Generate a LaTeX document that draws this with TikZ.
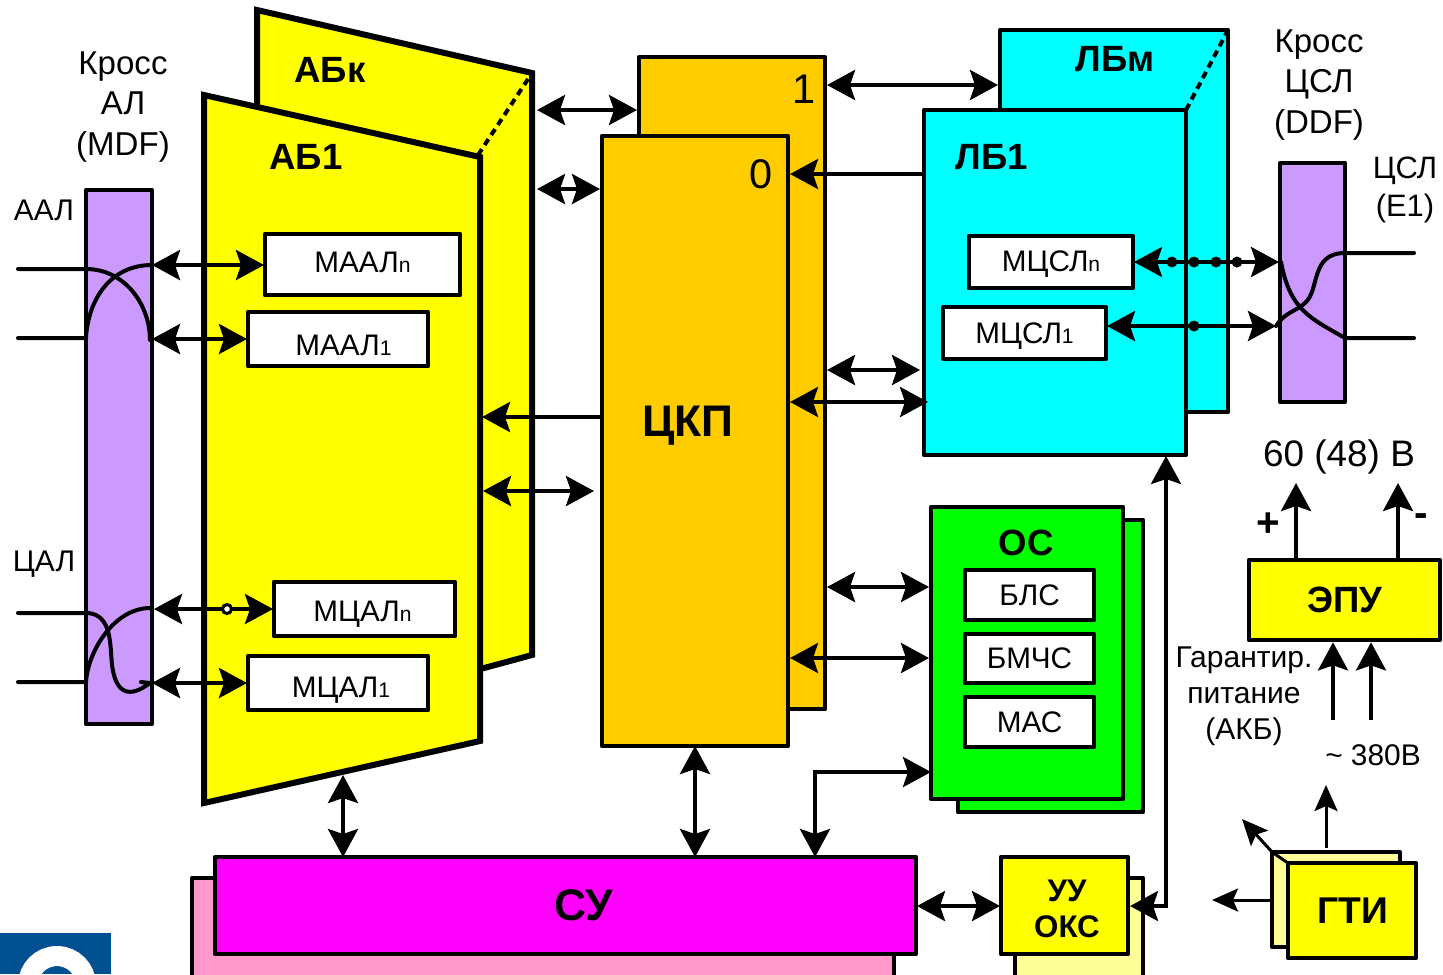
\documentclass[tikz,border=0pt]{standalone}
\usepackage{fontspec}
\usepackage{tikz}
\usetikzlibrary{arrows.meta}
\setmainfont{Liberation Sans}

\definecolor{lilac}{HTML}{CC99FF}
\definecolor{amber}{HTML}{FFCC00}
\definecolor{paleyellow}{HTML}{FFFF99}
\definecolor{palepink}{HTML}{FF99CC}
\definecolor{logoblue}{HTML}{005092}
\definecolor{ayellow}{HTML}{FFFF00}
\definecolor{acyan}{HTML}{00FFFF}
\definecolor{amagenta}{HTML}{FF00FF}
\definecolor{agreen}{HTML}{00FF00}

\tikzset{
  abox/.style={draw=black,line width=.47mm,line join=round,inner sep=0pt,align=center,rectangle},
  whitebox/.style={abox,fill=white,text depth=0mm,font=\fontsize{8.45}{10}\selectfont},
  smallbox/.style={abox,fill=white,font=\fontsize{8.45}{10}\selectfont,minimum width=12.9mm},
  dbl/.style={line width=.4mm,{Stealth[length=2.8mm,width=3mm,inset=.5mm]}-{Stealth[length=2.8mm,width=3mm,inset=.5mm]}},
  sgl/.style={line width=.4mm,-{Stealth[length=2.8mm,width=3mm,inset=.5mm]}},
  thin arr/.style={line width=.3mm,-{Stealth[length=2.6mm,width=2.3mm,inset=.5mm]}},
  wire/.style={line width=.4mm,line cap=round},
  lbl/.style={inner sep=0pt,align=center,font=\fontsize{9.4}{11.4}\selectfont},
  blbl/.style={inner sep=0pt,align=center,font=\fontsize{10.4}{12}\selectfont\bfseries},
  dot/.style={circle,fill=black,inner sep=0pt,minimum size=1.1mm}
}

\newcommand{\subn}[1]{{\fontsize{6}{7}\selectfont #1}}

\begin{document}
\begin{tikzpicture}[x=.1mm,y=-.1mm]
\clip (0,0) rectangle (1443,974);

% logo corner
\fill [logoblue] (0,933) rectangle (111,974);
\draw [white,line width=2mm] (57,985) circle [radius=29];

% analog block, rear and front
\draw [line width=.6mm,fill=ayellow] (257,10) -- (532,73) -- (532,655) -- (484,668) -- (257,668) -- cycle;
\draw [line width=.6mm,fill=ayellow] (204,95) -- (480,157) -- (480,741) -- (204,803) -- cycle;
\coordinate (ABa) at (478,155);
\coordinate (ABb) at (532,73);
\draw [line width=.4mm,dash pattern=on .7mm off .5mm] (ABa) to (ABb);

% switch field
\node [abox,fill=amber,minimum width=18.6mm,minimum height=65.2mm] (CKP1) at (732,383) {};
\node [abox,fill=amber,minimum width=18.6mm,minimum height=61mm] (CKP0) at (695,441) {};

% line blocks
\node [abox,fill=acyan,minimum width=22.8mm,minimum height=38.2mm] (LBm) at (1114,221) {};
\node [abox,fill=acyan,minimum width=26.2mm,minimum height=34.5mm] (LB1) at (1055,282.5) {};
\coordinate (LBa) at (1186,110);
\coordinate (LBb) at (1228,30);
\draw [line width=.4mm,dash pattern=on .7mm off .5mm] (LBa) to (LBb);

% cross panels
\node [abox,fill=lilac,minimum width=6.6mm,minimum height=53.4mm] (MDF) at (119,457) {};
\node [abox,fill=lilac,minimum width=6.5mm,minimum height=23.9mm] (DDF) at (1312.5,282.5) {};

% common channel equipment
\node [abox,fill=agreen,minimum width=18.5mm,minimum height=29.2mm] (OSr) at (1050.5,666) {};
\node [abox,fill=agreen,minimum width=19.2mm,minimum height=29.2mm] (OS) at (1027,653) {};
\node [smallbox,minimum height=5mm] (BLS) at (1029.5,595) {БЛС};
\node [smallbox,minimum height=4.9mm] (BMCHS) at (1029.5,658.5) {БМЧС};
\node [smallbox,minimum height=5mm] (MAC) at (1029.5,722) {МАС};

% control
\node [abox,fill=palepink,minimum width=70.2mm,minimum height=12mm] (SUr) at (543,938) {};
\node [abox,fill=amagenta,minimum width=70.1mm,minimum height=9.7mm] (SU) at (565.5,905.5) {};
\node [abox,fill=paleyellow,minimum width=12.8mm,minimum height=12mm] (UUr) at (1079,938) {};
\node [abox,fill=ayellow,minimum width=12.7mm,minimum height=9.7mm] (UU) at (1064.5,905.5) {};
\node [abox,fill=paleyellow,minimum width=12.8mm,minimum height=9.5mm] (GTIr) at (1336,899.5) {};
\node [abox,fill=ayellow,minimum width=12.8mm,minimum height=9.5mm,font=\fontsize{10.6}{12}\selectfont\bfseries] (GTI) at (1352,910.5) {\hspace*{.1mm}ГТИ};
\node [abox,fill=ayellow,minimum width=19.1mm,minimum height=8mm,font=\fontsize{10.4}{12}\selectfont\bfseries] (EPU) at (1344.5,600) {ЭПУ};

% line cards
\node [whitebox,text height=1.63mm,minimum width=19.5mm,minimum height=6.1mm] (MAALn) at (362.5,264.5) {МААЛ\subn{n}};
\node [whitebox,text height=3.33mm,minimum width=18mm,minimum height=5.4mm] (MAAL1) at (338,339) {\hspace*{1.1mm}МААЛ\subn{1}};
\node [whitebox,text height=2.53mm,minimum width=18.1mm,minimum height=5.4mm] (MCALn) at (364.5,609) {\hspace*{-.4mm}МЦАЛ\subn{n}};
\node [whitebox,text height=2.93mm,minimum width=18mm,minimum height=5.4mm] (MCAL1) at (338,683) {\hspace*{.6mm}МЦАЛ\subn{1}};
\node [whitebox,text height=1.93mm,minimum width=16.4mm,minimum height=5.2mm] (MCSLn) at (1051,262) {МЦСЛ\subn{n}};
\node [whitebox,text height=2.13mm,minimum width=16.3mm,minimum height=5.2mm] (MCSL1) at (1024.5,333) {МЦСЛ\subn{1}};

\coordinate (A) at (18,269);
\coordinate (B) at (86,269);
\coordinate (C) at (150,340);
\coordinate (D) at (18,338);
\coordinate (E) at (86,338);
\coordinate (F) at (152,265);
\coordinate (G) at (18,613);
\coordinate (H) at (88,613);
\coordinate (I) at (18,682);
\coordinate (J) at (86,682);
\coordinate (K) at (150,608);
\coordinate (L) at (1414,253);
\coordinate (M) at (1345,253);
\coordinate (N) at (1276,326);
\coordinate (O) at (1414,338);
\coordinate (P) at (1345,338);
\coordinate (Q) at (1281,262);

\draw [wire] (A) to (B) .. controls (125,269) and (150,305) .. (C);
\draw [wire] (D) to (E) .. controls (88,300) and (110,265) .. (F);
\draw [wire] (G) to (H) .. controls (112,615) and (110,645) .. (112,665) .. controls (116,695) and (130,698) .. (150,683) to (141,682);
\draw [wire] (I) to (J) .. controls (88,650) and (115,608) .. (K);
\draw [wire] (L) to (M) .. controls (1310,253) and (1320,290) .. (1305,303) .. controls (1295,312) and (1285,312) .. (N);
\draw [wire] (O) to (P) .. controls (1310,318) and (1290,310) .. (Q);

% links
\coordinate (a1) at (537,110);
\coordinate (a2) at (637,110);
\coordinate (b1) at (537,189);
\coordinate (b2) at (600,189);
\coordinate (c1) at (827,85);
\coordinate (c2) at (998,85);
\coordinate (d1) at (923,174);
\coordinate (d2) at (790,174);
\coordinate (e1) at (602,417);
\coordinate (e2) at (482,417);
\coordinate (f1) at (483,491);
\coordinate (f2) at (594,491);
\coordinate (g1) at (827,370);
\coordinate (g2) at (920,370);
\coordinate (h1) at (790,402);
\coordinate (h2) at (928,402);
\coordinate (i1) at (827,587);
\coordinate (i2) at (929,587);
\coordinate (j1) at (790,658);
\coordinate (j2) at (929,658);
\coordinate (k1) at (152,265);
\coordinate (k2) at (264,265);
\coordinate (l1) at (152,339);
\coordinate (l2) at (247,339);
\coordinate (m1) at (154,609);
\coordinate (m2) at (273,609);
\coordinate (n1) at (152,683);
\coordinate (n2) at (247,683);
\coordinate (o1) at (1134,262);
\coordinate (o2) at (1279,262);
\coordinate (p1) at (1107,326);
\coordinate (p2) at (1276,326);
\coordinate (q1) at (343,775);
\coordinate (q2) at (343,857);
\coordinate (r1) at (695,746);
\coordinate (r2) at (695,857);
\coordinate (s1) at (815,857);
\coordinate (s2) at (815,772);
\coordinate (s3) at (931,772);
\coordinate (t1) at (1166,456);
\coordinate (t2) at (1166,906);
\coordinate (t3) at (1130,906);
\coordinate (u1) at (917,906);
\coordinate (u2) at (1000,906);

\draw [dbl] (a1) to (a2);
\draw [dbl] (b1) to (b2);
\draw [dbl] (c1) to (c2);
\draw [sgl] (d1) to (d2);
\draw [sgl] (e1) to (e2);
\draw [dbl] (f1) to (f2);
\draw [dbl] (g1) to (g2);
\draw [dbl] (h1) to (h2);
\draw [dbl] (i1) to (i2);
\draw [dbl] (j1) to (j2);
\draw [dbl] (k1) to (k2);
\draw [dbl] (l1) to (l2);
\draw [dbl] (m1) to (m2);
\draw [dbl] (n1) to (n2);
\draw [dbl] (o1) to (o2);
\draw [dbl] (p1) to (p2);
\draw [dbl] (q1) to (q2);
\draw [dbl] (r1) to (r2);
\draw [dbl] (s1) -- (s2) -- (s3);
\draw [dbl] (t1) -- (t2) -- (t3);
\draw [dbl] (u1) to (u2);

\node [circle,draw=black,fill=white,line width=.3mm,inner sep=0pt,minimum size=.9mm] (mdot) at (227,609) {};
\node [dot] (o3) at (1172,262) {};
\node [dot] (o4) at (1194,262) {};
\node [dot] (o5) at (1216,262) {};
\node [dot] (o6) at (1237,262) {};
\node [dot] (p3) at (1194,326) {};

% power
\coordinate (v1) at (1296,483);
\coordinate (v2) at (1398,483);
\coordinate (w1) at (1333,720);
\coordinate (w2) at (1371,720);
\draw [sgl] (EPU.north -| v1) to (v1);
\draw [sgl] (EPU.north -| v2) to (v2);
\draw [sgl] (w1) to (EPU.south -| w1);
\draw [sgl] (w2) to (EPU.south -| w2);

% clock outputs
\coordinate (x1) at (1326,848);
\coordinate (x2) at (1326,785);
\coordinate (y1) at (1272,852);
\coordinate (y2) at (1242,819);
\coordinate (y3) at (1288,863);
\coordinate (z1) at (1272,900);
\coordinate (z2) at (1212,900);
\draw [thin arr] (x1) to (x2);
\draw [thin arr] (y1) to (y2);
\draw [line width=.3mm] (y1) to (y3);
\draw [thin arr] (z1) to (z2);

% labels
\node [lbl] (crossA) at (123,107) {Кросс\\АЛ\\(MDF)};
\node [lbl] (crossD) at (1319,85) {Кросс\\ЦСЛ\\(DDF)};
\node [lbl,font=\fontsize{8.8}{10.6}\selectfont] (cslE) at (1405,190) {ЦСЛ\\(E1)};
\node [lbl,font=\fontsize{8.5}{10}\selectfont] (AAL) at (44,210) {ААЛ};
\node [lbl,font=\fontsize{8.5}{10}\selectfont] (CAL) at (44,564) {ЦАЛ};
\node [blbl] (ABk) at (330,70) {АБк};
\node [blbl] (AB1) at (306,157) {АБ1};
\node [blbl] (LBmt) at (1115,59) {ЛБм};
\node [blbl] (LB1t) at (992,157) {ЛБ1};
\node [lbl,font=\fontsize{11.8}{13}\selectfont] (num1) at (804,89) {1};
\node [lbl,font=\fontsize{11.8}{13}\selectfont] (num0) at (761,174) {0};
\node [blbl,font=\fontsize{12.6}{14}\selectfont\bfseries] (CKP) at (688,426) {ЦКП};
\node [blbl,font=\fontsize{12.6}{14}\selectfont\bfseries] (SUt) at (584,905) {СУ};
\node [blbl,font=\fontsize{8.9}{10.3}\selectfont\bfseries] (UUt) at (1067,909) {УУ\\ОКС};
\node [blbl] (OSt) at (1026,543) {ОС};
\node [lbl,font=\fontsize{10.5}{12}\selectfont] (volt) at (1339,457) {60 (48) В};
\node [blbl,font=\fontsize{11.5}{13}\selectfont\bfseries] (plus) at (1268,525) {+};
\node [blbl,font=\fontsize{11.5}{13}\selectfont\bfseries] (minus) at (1421,520) {-};
\node [lbl,font=\fontsize{8.55}{10.3}\selectfont] (akb) at (1244,696) {Гарантир.\\питание\\(АКБ)};
\node [lbl,font=\fontsize{8.5}{10.3}\selectfont] (ac) at (1373,755) {\textasciitilde{} 380В};

\end{tikzpicture}
\end{document}
